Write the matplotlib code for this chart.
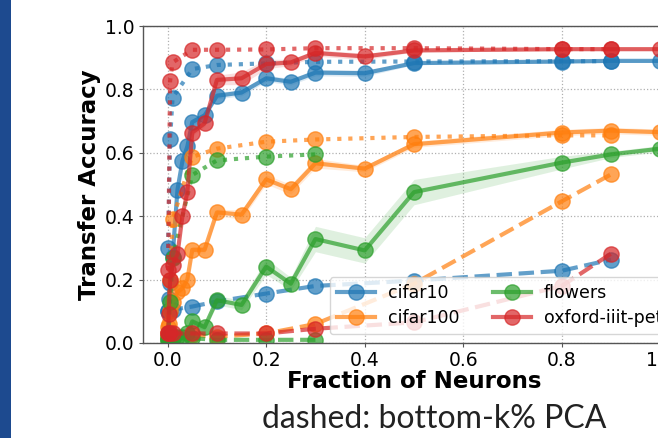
import matplotlib
matplotlib.use("Agg")
import matplotlib.pyplot as plt
from matplotlib.patches import Rectangle
import numpy as np

# ---------------- data ----------------
datasets = ["cifar10", "cifar100", "flowers", "oxford-iiit-pet"]
colors = ["#1f77b4", "#ff7f0e", "#2ca02c", "#d62728"]

# solid: top-k neurons
x_neurons = [0.001, 0.002, 0.005, 0.01, 0.02, 0.03, 0.04, 0.05, 0.075, 0.1,
             0.15, 0.2, 0.25, 0.3, 0.4, 0.5, 0.8, 0.9, 1.0]
cifar10_neurons = [0.10, 0.14, 0.19, 0.27, 0.484, 0.574, 0.62, 0.697, 0.718, 0.78,
                   0.79, 0.835, 0.824, 0.853, 0.851, 0.883, 0.888, 0.89, 0.89]
cifar100_neurons = [0.03, 0.06, 0.10, 0.13, 0.16, 0.173, 0.20, 0.294, 0.294, 0.412,
                    0.405, 0.516, 0.485, 0.567, 0.55, 0.627, 0.664, 0.67, 0.665]
flowers_neurons = [0.01, 0.015, 0.02, 0.02, 0.02, 0.02, 0.03, 0.068, 0.05, 0.135,
                   0.12, 0.241, 0.187, 0.328, 0.292, 0.476, 0.569, 0.595, 0.613]
pet_neurons = [0.03, 0.09, 0.20, 0.245, 0.28, 0.40, 0.476, 0.664, 0.693, 0.83,
               0.835, 0.88, 0.885, 0.915, 0.904, 0.923, 0.927, 0.927, 0.927]

cifar10_std = [0.01, 0.01, 0.01, 0.01, 0.01, 0.01, 0.01, 0.01, 0.01, 0.01,
               0.01, 0.01, 0.01, 0.01, 0.01, 0.005, 0.005, 0.005, 0.005]
cifar100_std = [0.005, 0.005, 0.01, 0.01, 0.01, 0.01, 0.01, 0.01, 0.01, 0.01,
                0.015, 0.015, 0.015, 0.015, 0.01, 0.01, 0.01, 0.01, 0.01]
flowers_std = [0.005, 0.005, 0.005, 0.005, 0.005, 0.005, 0.005, 0.01, 0.01, 0.015,
               0.015, 0.025, 0.02, 0.04, 0.04, 0.04, 0.02, 0.01, 0.01]
pet_std = [0.005, 0.01, 0.01, 0.01, 0.01, 0.01, 0.01, 0.01, 0.01, 0.015,
           0.02, 0.015, 0.01, 0.01, 0.01, 0.005, 0.005, 0.005, 0.005]

# dotted: top-k% PCA, dashed: bottom-k% PCA
x_pca = [0.001, 0.005, 0.01, 0.05, 0.1, 0.2, 0.3, 0.5, 0.8, 0.9]
cifar10_top_pca = [0.30, 0.645, 0.774, 0.864, 0.877, 0.882, 0.887, 0.888, 0.889, 0.889]
cifar100_top_pca = [0.05, 0.20, 0.39, 0.587, 0.613, 0.635, 0.642, 0.65, 0.655, 0.655]
flowers_top_pca = [0.02, 0.13, 0.268, 0.53, 0.576, 0.588, 0.595]
pet_top_pca = [0.23, 0.827, 0.885, 0.925, 0.925, 0.926, 0.93, 0.93, 0.927, 0.927]

cifar10_bottom_pca = [0.10, 0.10, 0.105, 0.115, 0.131, 0.156, 0.18, 0.197, 0.228, 0.263]
cifar100_bottom_pca = [0.02, 0.02, 0.02, 0.025, 0.02, 0.03, 0.06, 0.187, 0.447, 0.532]
flowers_bottom_pca = [0.01, 0.01, 0.015, 0.015, 0.01, 0.01, 0.01]
pet_bottom_pca = [0.03, 0.03, 0.03, 0.03, 0.03, 0.03, 0.045, 0.065, 0.18, 0.282]

neurons = [cifar10_neurons, cifar100_neurons, flowers_neurons, pet_neurons]
stds = [cifar10_std, cifar100_std, flowers_std, pet_std]
top_pca = [cifar10_top_pca, cifar100_top_pca, flowers_top_pca, pet_top_pca]
bottom_pca = [cifar10_bottom_pca, cifar100_bottom_pca, flowers_bottom_pca, pet_bottom_pca]

# ---------------- plot ----------------
fig = plt.figure(figsize=(6.58, 4.38), dpi=100)
ax = fig.add_axes([143 / 658, 95 / 438, 542 / 658, 317 / 438])

ms = 11
alpha = 0.7
handles = []
for name, c, yn, sd, yt, yb in zip(datasets, colors, neurons, stds, top_pca, bottom_pca):
    yn_a = np.array(yn)
    sd_a = np.array(sd)
    ax.fill_between(x_neurons, yn_a - sd_a, yn_a + sd_a, color=c, alpha=0.15, lw=0)
    h, = ax.plot(x_neurons, yn, '-o', color=c, lw=3, ms=ms, alpha=alpha, label=name)
    handles.append(h)
    ax.plot(x_pca[:len(yt)], yt, ':o', color=c, lw=3, ms=ms, alpha=alpha)
    ax.plot(x_pca[:len(yb)], yb, '--o', color=c, lw=3, ms=ms, alpha=alpha)

ax.set_xlim(-0.05, 1.05)
ax.set_ylim(0, 1.0)
ax.set_xticks([0.0, 0.2, 0.4, 0.6, 0.8, 1.0])
ax.set_yticks([0.0, 0.2, 0.4, 0.6, 0.8, 1.0])
ax.tick_params(labelsize=13.5, length=3, color="#555555", pad=3)
ax.grid(True, linestyle=":", color="#b0b0b0", lw=0.9)
ax.set_axisbelow(True)
for s in ax.spines.values():
    s.set_color("#555555")
    s.set_linewidth(1.0)

ax.set_xlabel("Fraction of Neurons", fontsize=16.5, fontweight="bold", labelpad=0)
ax.set_ylabel("Transfer Accuracy", fontsize=16.5, fontweight="bold", labelpad=3)

ax.legend(handles=handles, ncol=2, loc="lower left",
          bbox_to_anchor=((330 - 143) / 542, (343 - 334) / 317),
          borderaxespad=0, fontsize=12.5,
          framealpha=0.8, handlelength=2.2, handletextpad=0.75, columnspacing=1.9,
          labelspacing=0.4)

fig.text(434 / 658, 1 - 419 / 438, "dashed: bottom-k% PCA", ha="center", va="center",
         fontsize=23, family=["Lato", "DejaVu Sans"], color="#222222")

fig.add_artist(Rectangle((0, 0), 11 / 658, 1, transform=fig.transFigure,
                         color="#1d4a8f", lw=0))

fig.savefig("out.png", dpi=100)
